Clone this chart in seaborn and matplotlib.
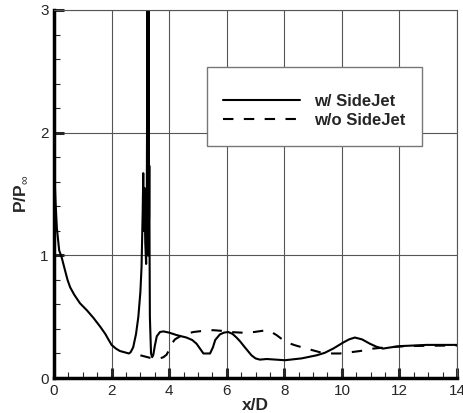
import pandas as pd
import matplotlib
matplotlib.use("Agg")
import matplotlib.pyplot as plt
from matplotlib.patches import Rectangle
from matplotlib.ticker import MultipleLocator
import seaborn as sns

# w/ SideJet (solid)
jet_x = [0.0, 0.05, 0.1, 0.18, 0.27, 0.38, 0.47, 0.56, 0.7, 0.9, 1.15, 1.37, 1.6,
         1.78, 1.9, 2.0, 2.15, 2.29, 2.45, 2.6, 2.66, 2.75, 2.85, 2.93, 3.0, 3.04,
         3.08, 3.10, 3.12, 3.14, 3.17, 3.20, 3.22, 3.25, 3.26, 3.27, 3.28, 3.29,
         3.30, 3.31, 3.32, 3.33, 3.37, 3.41, 3.45, 3.5, 3.57, 3.68, 3.8, 4.0, 4.26,
         4.6, 4.8, 4.95, 5.1, 5.19, 5.42, 5.52, 5.6, 5.76, 5.9, 6.05, 6.2, 6.34,
         6.46, 6.63, 6.86, 7.0, 7.15, 7.39, 7.7, 8.02, 8.6, 9.12, 9.4, 9.7, 10.05,
         10.25, 10.45, 10.7, 10.97, 11.2, 11.43, 11.7, 12.01, 12.5, 12.94, 14.0]
jet_y = [1.76, 1.45, 1.22, 1.04, 0.98, 0.88, 0.8, 0.74, 0.68, 0.61, 0.55, 0.49,
         0.42, 0.36, 0.31, 0.27, 0.24, 0.22, 0.21, 0.20, 0.21, 0.25, 0.36, 0.50,
         0.7, 0.9, 1.35, 1.67, 1.2, 1.55, 1.1, 0.93, 1.2, 3.4, 1.0, 3.4, 1.0, 3.4,
         1.3, 1.73, 1.0, 0.5, 0.2, 0.17, 0.19, 0.26, 0.34, 0.375, 0.38, 0.37, 0.35,
         0.33, 0.31, 0.28, 0.23, 0.20, 0.20, 0.25, 0.31, 0.355, 0.37, 0.375, 0.36,
         0.33, 0.30, 0.25, 0.185, 0.16, 0.15, 0.155, 0.15, 0.145, 0.16, 0.185,
         0.205, 0.24, 0.29, 0.315, 0.33, 0.315, 0.28, 0.255, 0.24, 0.25, 0.26,
         0.265, 0.27, 0.27]

# w/o SideJet (dashed)
nojet_x = [3.0, 3.33, 3.5, 3.68, 3.8, 3.91, 4.0, 4.09, 4.2, 4.38, 4.6, 4.84, 5.2,
           5.53, 5.8, 6.11, 6.5, 6.8, 7.1, 7.39, 7.55, 7.73, 7.9, 8.08, 8.4, 8.77,
           9.24, 9.6, 9.93, 10.3, 10.63, 11.09, 11.55, 12.25, 13.0, 14.0]
nojet_y = [0.185, 0.165, 0.158, 0.16, 0.17, 0.19, 0.23, 0.28, 0.315, 0.34, 0.36,
           0.375, 0.385, 0.39, 0.385, 0.375, 0.37, 0.37, 0.38, 0.39, 0.375, 0.35,
           0.32, 0.29, 0.265, 0.24, 0.21, 0.2, 0.2, 0.21, 0.22, 0.24, 0.25, 0.26,
           0.263, 0.265]

jet_df = pd.DataFrame({"x": jet_x, "p": jet_y})
nojet_df = pd.DataFrame({"x": nojet_x, "p": nojet_y})

sns.set_style("white")
plt.rcParams["font.family"] = ["Liberation Sans", "DejaVu Sans"]
plt.rcParams["mathtext.fontset"] = "custom"
plt.rcParams["mathtext.rm"] = "Liberation Sans"

fig = plt.figure(figsize=(4.64, 4.13), dpi=100)
ax = fig.add_axes([0.1164, 0.0847, 0.8686, 0.8911])

sns.lineplot(data=jet_df, x="x", y="p", ax=ax, estimator=None, sort=False,
             color="black", lw=1.5, label="w/ SideJet")
sns.lineplot(data=nojet_df, x="x", y="p", ax=ax, estimator=None, sort=False,
             color="black", lw=1.5, label="w/o SideJet")
ax.lines[1].set_dashes((5, 5))

ax.set_xlim(0, 14)
ax.set_ylim(0, 3)
ax.xaxis.set_major_locator(MultipleLocator(2))
ax.xaxis.set_minor_locator(MultipleLocator(0.5))
ax.yaxis.set_major_locator(MultipleLocator(1))
ax.yaxis.set_minor_locator(MultipleLocator(0.2))
ax.grid(True, which="major", color="#555555", lw=0.8)
ax.tick_params(which="major", direction="in", length=7, width=2.2, labelsize=11, pad=4)
ax.tick_params(which="minor", direction="in", length=4, width=0.8)
ax.tick_params(bottom=True, left=True, which="both")

for side in ["left", "bottom"]:
    ax.spines[side].set_linewidth(2.5)
    ax.spines[side].set_color("black")
for side in ["top", "right"]:
    ax.spines[side].set_linewidth(0.8)
    ax.spines[side].set_color("#555555")

ax.set_xlabel("x/D", fontsize=12.5, fontweight="bold", labelpad=0)
ax.set_ylabel(r"P/P$_{\infty}$", fontsize=12.5, fontweight="bold", labelpad=8)

# legend box drawn separately so the padding can differ per direction
ax.add_patch(Rectangle((0.38, 0.63), 0.533, 0.215, transform=ax.transAxes,
                       facecolor="white", edgecolor="#777777", lw=1.0, zorder=4))
leg = ax.legend(loc="center", bbox_to_anchor=(0.646, 0.7255), frameon=False,
                prop={"weight": "bold", "size": 12}, handlelength=4.6,
                labelspacing=0.25, handletextpad=0.85, borderpad=0)
leg.set_zorder(5)

fig.savefig("out.png", dpi=100)
